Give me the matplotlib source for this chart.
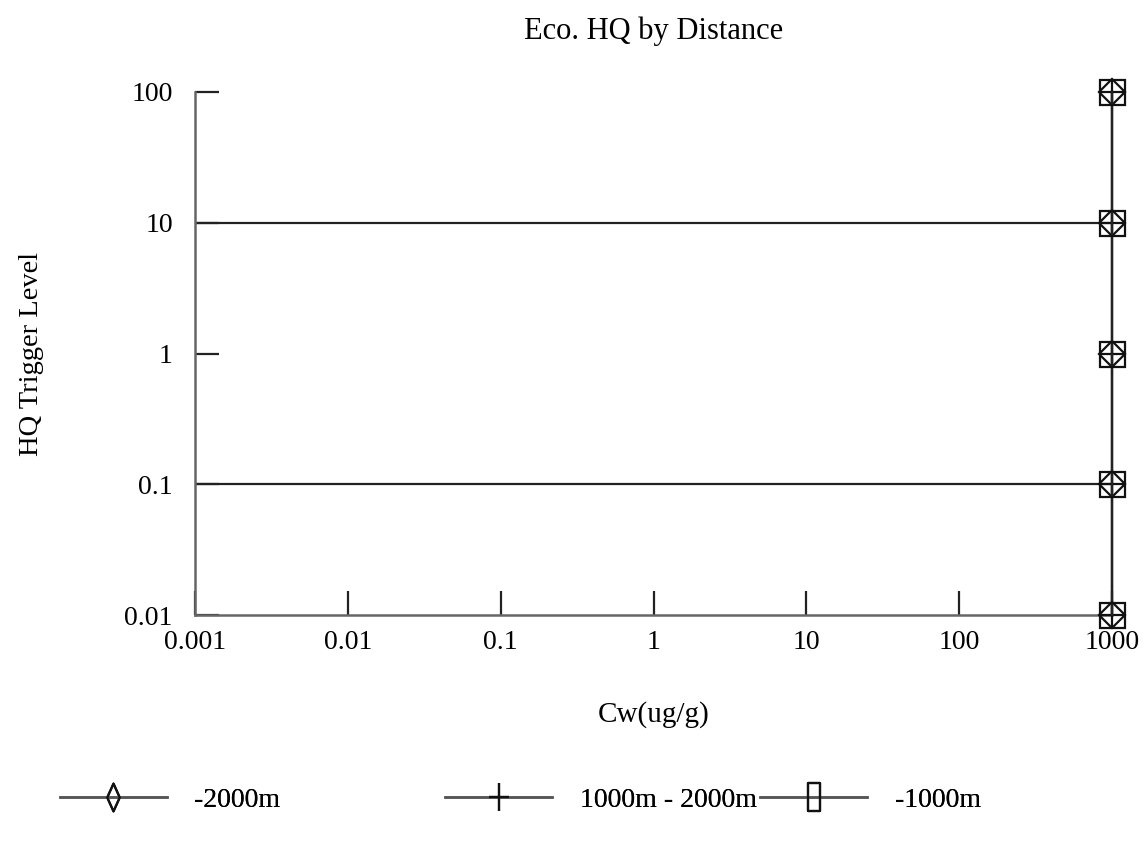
import matplotlib
import matplotlib.pyplot as plt
from matplotlib.lines import Line2D
from matplotlib.path import Path

matplotlib.use('Agg')
matplotlib.rcParams["font.family"] = "Liberation Serif"
matplotlib.rcParams["font.size"] = 20

# data
cw_values = [1000, 1000, 1000, 1000, 1000]
hq_levels = [0.01, 0.1, 1, 10, 100]
series_names = ['-2000m', '1000m - 2000m', '-1000m']
series_markers = ['D', '+', 's']
ref_levels = [10, 0.1]
x_ticks = [0.001, 0.01, 0.1, 1, 10, 100, 1000]
x_labels = ['0.001', '0.01', '0.1', '1', '10', '100', '1000']
y_ticks = [0.01, 0.1, 1, 10, 100]
y_labels = ['0.01', '0.1', '1', '10', '100']

LINE = '#222222'

fig = plt.figure(figsize=(11.47, 8.44), dpi=100)
ax = fig.add_axes([0.170, 0.2713, 0.7995, 0.6197])

ax.set_xscale('log')
ax.set_yscale('log')
ax.set_xlim(0.001, 1000)
ax.set_ylim(0.01, 100)

for lv in ref_levels:
    ax.plot([0.001, 1000], [lv, lv], color=LINE, linewidth=1.6, zorder=2)

sizes = {'D': 13, '+': 18, 's': 18}
for name, mk in zip(series_names, series_markers):
    ax.plot(cw_values, hq_levels, color=LINE, linewidth=1.6,
            marker=mk, markersize=sizes[mk], markerfacecolor='none',
            markeredgecolor='#111111', markeredgewidth=1.6,
            label=name, clip_on=False, zorder=3)

ax.set_xticks(x_ticks)
ax.set_xticklabels(x_labels)
ax.set_yticks(y_ticks)
ax.set_yticklabels(y_labels)
ax.minorticks_off()
ax.tick_params(direction='in', length=17, width=1.6, color=LINE)
ax.tick_params(axis='x', pad=11)
ax.tick_params(axis='y', pad=16)

for s in ['top', 'right']:
    ax.spines[s].set_visible(False)
for s in ['left', 'bottom']:
    ax.spines[s].set_color('#666666')
    ax.spines[s].set_linewidth(1.8)

ax.set_title('Eco. HQ by Distance', fontsize=22, pad=38)
ax.set_xlabel('Cw(ug/g)', fontsize=21, labelpad=33)
ax.set_ylabel('HQ Trigger Level', fontsize=20.5, labelpad=58)

# legend handles (markers look stretched vertically in the original)
tall_diamond = Path([(0, -1), (0.45, 0), (0, 1), (-0.45, 0), (0, -1)],
                    [Path.MOVETO, Path.LINETO, Path.LINETO, Path.LINETO, Path.CLOSEPOLY])
tall_plus = Path([(-0.38, 0), (0.38, 0), (0, -0.55), (0, 0.55)],
                 [Path.MOVETO, Path.LINETO, Path.MOVETO, Path.LINETO])
tall_square = Path([(-0.45, -1), (0.45, -1), (0.45, 1), (-0.45, 1), (-0.45, -1)],
                   [Path.MOVETO, Path.LINETO, Path.LINETO, Path.LINETO, Path.CLOSEPOLY])
leg_markers = [tall_diamond, tall_plus, tall_square]
leg_x = [0.052, 0.388, 0.663]

for name, mk, x0 in zip(series_names, leg_markers, leg_x):
    h = Line2D([], [], color='#555555', linewidth=1.8, marker=mk,
               markersize=20, markerfacecolor='none',
               markeredgecolor='#111111', markeredgewidth=1.6)
    leg = fig.legend([h], [name], loc='center left', bbox_to_anchor=(x0, 0.052),
                     frameon=False, handlelength=3.85, handletextpad=1.0,
                     borderpad=0, borderaxespad=0, fontsize=20)
    fig.add_artist(leg)

plt.savefig('out.png', dpi=100)
